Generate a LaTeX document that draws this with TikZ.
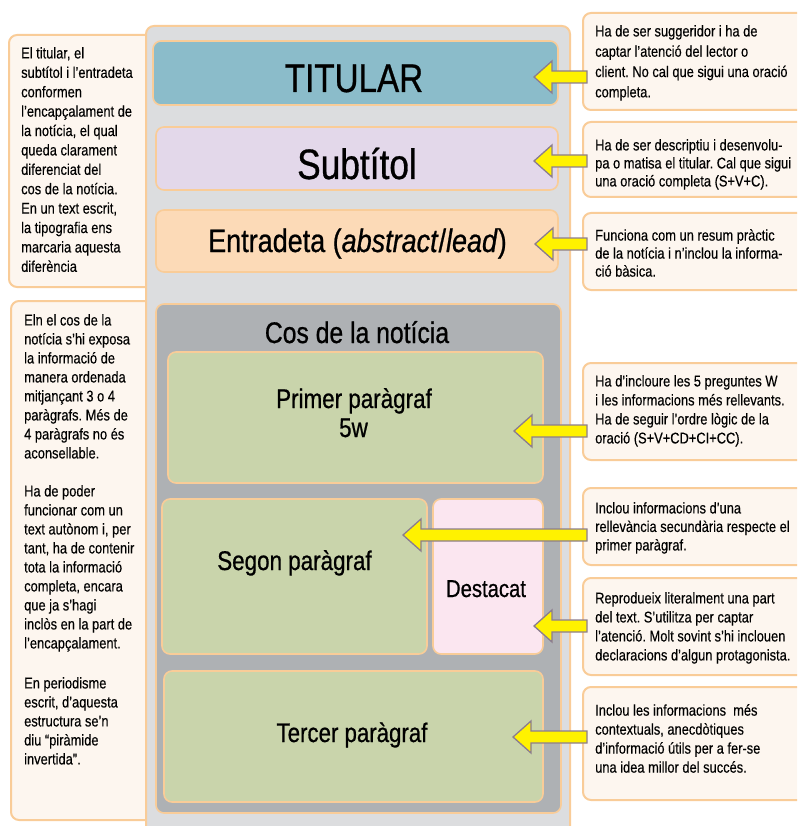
\documentclass[tikz,border=0pt]{standalone}
\usepackage{fontspec}
\setmainfont[FakeStretch=0.83, FakeBold=0.3]{Liberation Sans}
\newfontfamily\bigfont[FakeStretch=0.83, FakeBold=0.7]{Liberation Sans}
\usetikzlibrary{calc}
\frenchspacing
\definecolor{bord}{HTML}{F9CC98}
\definecolor{mainfill}{HTML}{DCDDDF}
\definecolor{cosfill}{HTML}{AEB1B4}
\definecolor{titfill}{HTML}{8BBCCA}
\definecolor{subfill}{HTML}{E3D8EA}
\definecolor{entfill}{HTML}{FCDAB7}
\definecolor{parafill}{HTML}{C9D4AB}
\definecolor{destfill}{HTML}{FBE6F0}
\definecolor{cream}{HTML}{FDF6EF}
\definecolor{yel}{HTML}{FFF200}
\definecolor{arrbord}{HTML}{8C7D8E}
\newcommand\yarrow[2]{%
  \draw[yarr] (#1) -- ++(18,-16) -- ++(0,10) -- ($(#2.west |- #1)+(5,-6)$) -- ++(0,12) -- ($(#1)+(18,6)$) -- ++(0,10) -- cycle;}
\begin{document}
\begin{tikzpicture}[x=1pt,y=-1pt,
  sidebox/.style={draw=bord, fill=cream, line width=2pt, rounded corners=8pt, inner sep=0pt},
  inbox/.style={draw=bord, line width=1.6pt, rounded corners=8pt, inner sep=0pt},
  small/.style={align=left, anchor=north west, inner sep=0pt, text=black},
  lbl/.style={anchor=base, inner sep=0pt, text=black},
  yarr/.style={fill=yel, draw=arrbord, line width=1.3pt, line join=miter}]
\clip (0,0) rectangle (797,826);
\fill[white] (0,0) rectangle (797,826);
% left boxes
\node[sidebox, minimum width=161pt, minimum height=252pt] (l1) at (89.5,161) {};
\node[sidebox, minimum width=159pt, minimum height=519pt] (l2) at (90.5,560.5) {};
\node[small, font=\fontsize{15.5}{19.4}\selectfont] (l1t) at (21,47) {El titular, el\\subtítol i l’entradeta\\conformen\\l’encapçalament de\\la notícia, el qual\\queda clarament\\diferenciat del\\cos de la notícia.\\En un text escrit,\\la tipografia ens\\marcaria aquesta\\diferència};
\node[small, font=\fontsize{15.5}{19}\selectfont] (l2t) at (24,314) {Eln el cos de la\\notícia s’hi exposa\\la informació de\\manera ordenada\\mitjançant 3 o 4\\paràgrafs. Més de\\4 paràgrafs no és\\aconsellable.\\[19pt]Ha de poder\\funcionar com un\\text autònom i, per\\tant, ha de contenir\\tota la informació\\completa, encara\\que ja s’hagi\\inclòs en la part de\\l’encapçalament.\\[21pt]En periodisme\\escrit, d’aquesta\\estructura se’n\\diu “piràmide\\invertida”.};
% main container
\node[inbox, fill=mainfill, line width=2pt, minimum width=424pt, minimum height=824pt] (main) at (358,438) {};
\node[inbox, fill=titfill, minimum width=405pt, minimum height=64pt] (tit) at (355.5,73) {};
\node[lbl, font=\bigfont\fontsize{40}{42}\selectfont] (titt) at (354,92) {TITULAR};
\node[inbox, fill=subfill, minimum width=402pt, minimum height=63pt] (sub) at (357,158.5) {};
\node[lbl, font=\bigfont\fontsize{42.5}{44}\selectfont] (subt) at (357,179) {Subtítol};
\node[inbox, fill=entfill, minimum width=402pt, minimum height=62pt] (ent) at (357,241) {};
\node[lbl, font=\bigfont\fontsize{32.5}{34}\selectfont] (entt) at (357.5,252) {Entradeta (\textit{abstract}/\textit{lead})};
\node[inbox, fill=cosfill, minimum width=405pt, minimum height=509pt] (cos) at (358.5,558.5) {};
\node[lbl, font=\bigfont\fontsize{29.8}{31}\selectfont] (cost) at (357,343) {Cos de la notícia};
\node[inbox, fill=parafill, minimum width=375pt, minimum height=131pt] (p1) at (355.5,417.5) {};
\node[lbl, font=\bigfont\fontsize{27}{29}\selectfont] (p1t) at (354,408) {Primer paràgraf};
\node[lbl, font=\bigfont\fontsize{27}{29}\selectfont] (p1w) at (353.5,437) {5w};
\node[inbox, fill=parafill, minimum width=265pt, minimum height=155pt] (p2) at (294.5,576.5) {};
\node[lbl, font=\bigfont\fontsize{27}{29}\selectfont] (p2t) at (294.5,570) {Segon paràgraf};
\node[inbox, fill=destfill, minimum width=110pt, minimum height=155pt] (dest) at (488,576.5) {};
\node[lbl, font=\bigfont\fontsize{24.4}{27}\selectfont] (destt) at (486,597) {Destacat};
\node[inbox, fill=parafill, minimum width=379pt, minimum height=131pt] (p3) at (353.5,736.5) {};
\node[lbl, font=\bigfont\fontsize{26.8}{29}\selectfont] (p3t) at (352,742) {Tercer paràgraf};
% right boxes
\node[sidebox, minimum width=247pt, minimum height=97pt] (r1) at (706.5,61.5) {};
\node[sidebox, minimum width=247pt, minimum height=75pt] (r2) at (706.5,159.5) {};
\node[sidebox, minimum width=247pt, minimum height=77pt] (r3) at (706.5,251.5) {};
\node[sidebox, minimum width=247pt, minimum height=97pt] (r4) at (706.5,411.5) {};
\node[sidebox, minimum width=247pt, minimum height=77pt] (r5) at (706.5,526.5) {};
\node[sidebox, minimum width=247pt, minimum height=97pt] (r6) at (706.5,626.5) {};
\node[sidebox, minimum width=247pt, minimum height=113pt] (r7) at (706.5,743.5) {};
\node[small, font=\fontsize{15.5}{20.3}\selectfont] (r1t) at (595,25) {Ha de ser suggeridor i ha de\\captar l’atenció del lector o\\client. No cal que sigui una oració\\completa.};
\node[small, font=\fontsize{15.5}{18}\selectfont] (r2t) at (595,139) {Ha de ser descriptiu i desenvolu-\\pa o matisa el titular. Cal que sigui\\una oració completa (S+V+C).};
\node[small, font=\fontsize{15.5}{18}\selectfont] (r3t) at (595,229) {Funciona com un resum pràctic\\de la notícia i n’inclou la informa-\\ció bàsica.};
\node[small, font=\fontsize{15.5}{19}\selectfont] (r4t) at (595,375) {Ha d’incloure les 5 preguntes W\\i les informacions més rellevants.\\Ha de seguir l’ordre lògic de la\\oració (S+V+CD+CI+CC).};
\node[small, font=\fontsize{15.5}{18.5}\selectfont] (r5t) at (595,502) {Inclou informacions d’una\\rellevància secundària respecte el\\primer paràgraf.};
\node[small, font=\fontsize{15.5}{19}\selectfont] (r6t) at (595,592) {Reprodueix literalment una part\\del text. S’utilitza per captar\\l’atenció. Molt sovint s’hi inclouen\\declaracions d’algun protagonista.};
\node[small, font=\fontsize{15.5}{19}\selectfont] (r7t) at (595,704) {Inclou les informacions~ més\\contextuals, anecdòtiques\\d’informació útils per a fer-se\\una idea millor del succés.};
% arrows
\coordinate (a1) at (534,77);
\coordinate (a2) at (534,161);
\coordinate (a3) at (535,244);
\coordinate (a4) at (514,431);
\coordinate (a5) at (403,535);
\coordinate (a6) at (534,626);
\coordinate (a7) at (513,737);
\yarrow{a1}{r1}
\yarrow{a2}{r2}
\yarrow{a3}{r3}
\yarrow{a4}{r4}
\yarrow{a5}{r5}
\yarrow{a6}{r6}
\yarrow{a7}{r7}
\end{tikzpicture}
\end{document}
